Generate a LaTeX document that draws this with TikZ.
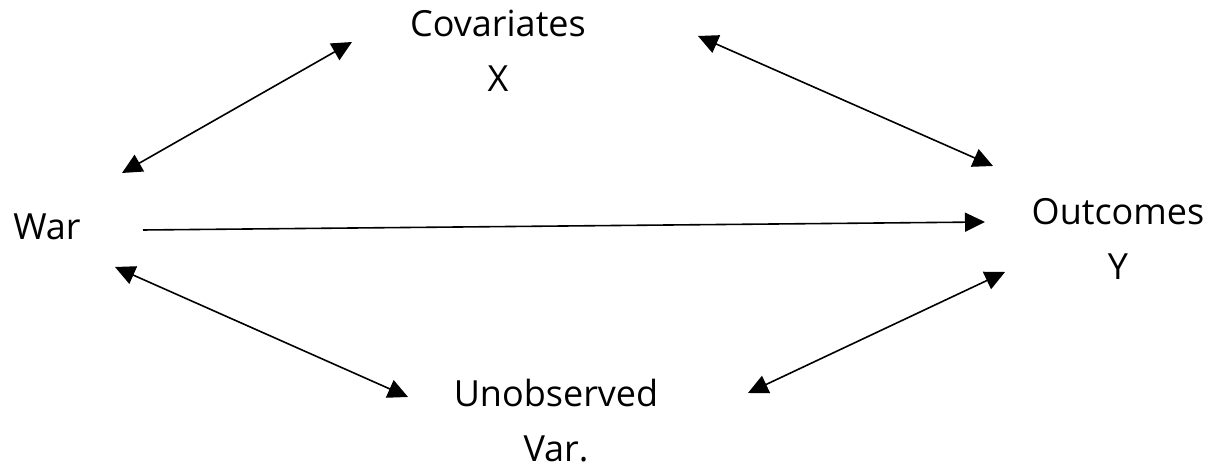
\documentclass[tikz,border=0pt]{standalone}
\usepackage{fontspec}
\setmainfont{Open Sans}
\usetikzlibrary{arrows.meta}
\begin{document}
\begin{tikzpicture}[x=1pt,y=1pt,
  lbl/.style={anchor=base,inner sep=0pt,font=\fontsize{36}{42}\selectfont},
  dbl/.style={line width=1.6pt,{Triangle[length=20pt,width=19pt]}-{Triangle[length=20pt,width=19pt]}},
  sgl/.style={line width=1.6pt,-{Triangle[length=20pt,width=19pt]}}]
\useasboundingbox (0,0) rectangle (1221,470);
\node[lbl] (cov) at (498,433) {Covariates};
\node[lbl] (covx) at (498,378) {X};
\node[lbl] (war) at (47,230) {War};
\node[lbl] (out) at (1118,245) {Outcomes};
\node[lbl] (outy) at (1118,190) {Y};
\node[lbl] (unob) at (556,63) {Unobserved};
\node[lbl,text depth=0pt] (unobv) at (556,8) {Var.};
\coordinate (a1s) at (122,297);
\coordinate (a1e) at (352,428);
\coordinate (a2s) at (698,434);
\coordinate (a2e) at (993,304);
\coordinate (a3s) at (143,240);
\coordinate (a3e) at (985,248);
\coordinate (a4s) at (115,203);
\coordinate (a4e) at (408,73);
\coordinate (a5s) at (748,77);
\coordinate (a5e) at (1005,198);
\draw[dbl] (a1s) -- (a1e);
\draw[dbl] (a2s) -- (a2e);
\draw[sgl] (a3s) -- (a3e);
\draw[dbl] (a4s) -- (a4e);
\draw[dbl] (a5s) -- (a5e);
\end{tikzpicture}
\end{document}
